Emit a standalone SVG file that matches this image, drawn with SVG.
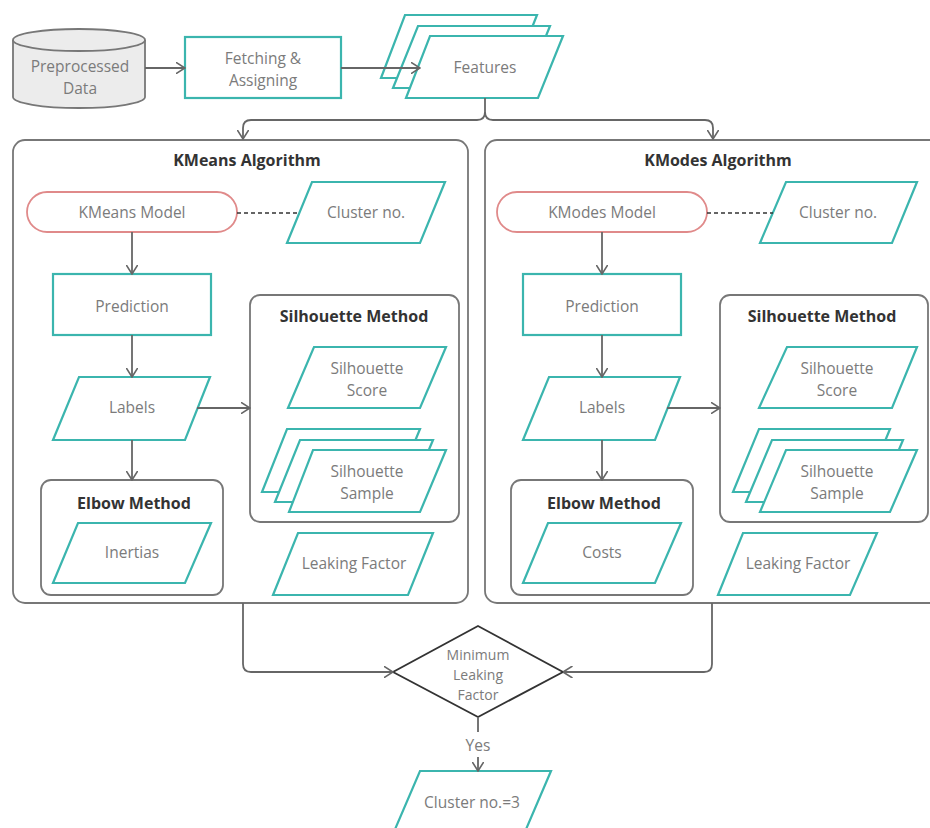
<svg xmlns="http://www.w3.org/2000/svg" width="930" height="828" viewBox="0 0 930 828">
<defs>
<marker id="arr" viewBox="0 0 10 12" refX="9.5" refY="6" markerWidth="10" markerHeight="12" markerUnits="userSpaceOnUse" orient="auto">
<path d="M0,0 L9.5,6 L0,12" fill="none" stroke="#666" stroke-width="1.6"/>
</marker>
</defs>
<style>
.bg{fill:#fff}
.io{fill:#fff;stroke:#3bb5ae;stroke-width:2.2}
.proc{fill:#fff;stroke:#3bb5ae;stroke-width:2.2}
.cont{fill:#fff;stroke:#777;stroke-width:1.8}
.term{fill:#fff;stroke:#e08a8a;stroke-width:1.8}
.db{fill:#ececec;stroke:#777;stroke-width:1.8}
.dec{fill:#fff;stroke:#333;stroke-width:1.8}
.lbl{font-family:"Open Sans","Noto Sans","Liberation Sans",sans-serif;font-size:15.5px;fill:#7b7b7b;text-anchor:middle}
.sm{font-size:14px}
.ttl{font-family:"Open Sans","Noto Sans","Liberation Sans",sans-serif;font-size:16px;font-weight:bold;fill:#333;text-anchor:middle}
.ln{fill:none;stroke:#666;stroke-width:1.8}
.dash{fill:none;stroke:#333;stroke-width:1.6;stroke-dasharray:4,3}
</style>
<rect class="bg" x="0" y="0" width="930" height="828"/>

<!-- Top row -->
<g id="preprocessed">
<path class="db" d="M13,40 A66,11 0 0 1 145,40 L145,97 A66,11 0 0 1 13,97 Z"/>
<path class="db" d="M13,40 A66,11 0 0 0 145,40"/>
<text class="lbl" x="80" y="72">Preprocessed</text>
<text class="lbl" x="80" y="93.5">Data</text>
</g>
<g id="fetching">
<rect class="proc" x="185" y="37" width="156" height="61"/>
<text class="lbl" x="263" y="64">Fetching &amp;</text>
<text class="lbl" x="263" y="85.5">Assigning</text>
</g>
<g id="features">
<polygon class="io" points="405,15 537,15 512,78 381,78"/>
<polygon class="io" points="418,26 550,26 525,88 393,88"/>
<polygon class="io" points="430,36 563,36 538,98 406,98"/>
<text class="lbl" x="485" y="73">Features</text>
</g>

<!-- KMeans container -->
<g id="kmeans">
<rect class="cont" x="13" y="140" width="455" height="463" rx="12"/>
<text class="ttl" x="247" y="166">KMeans Algorithm</text>
</g>
<g id="kmeans-model">
<rect class="term" x="27" y="192" width="210" height="40" rx="20"/>
<text class="lbl" x="132" y="218">KMeans Model</text>
</g>
<g id="kmeans-cluster">
<polygon class="io" points="312,182 445,182 420,243 287,243"/>
<text class="lbl" x="366" y="218">Cluster no.</text>
</g>
<g id="kmeans-prediction">
<rect class="proc" x="53" y="274" width="158" height="61"/>
<text class="lbl" x="132" y="312">Prediction</text>
</g>
<g id="kmeans-labels">
<polygon class="io" points="79,377 210,377 185,440 53,440"/>
<text class="lbl" x="132" y="413">Labels</text>
</g>
<g id="kmeans-silhouette">
<rect class="cont" x="250" y="295" width="209" height="227" rx="10"/>
<text class="ttl" x="354" y="322">Silhouette Method</text>
</g>
<g id="kmeans-score">
<polygon class="io" points="314,347 446,347 420,408 288,408"/>
<text class="lbl" x="367" y="374">Silhouette</text>
<text class="lbl" x="367" y="395.5">Score</text>
</g>
<g id="kmeans-sample">
<polygon class="io" points="287,429 420,429 394,492 262,492"/>
<polygon class="io" points="300,440 433,440 407,502 275,502"/>
<polygon class="io" points="313,450 446,450 420,512 289,512"/>
<text class="lbl" x="367" y="477">Silhouette</text>
<text class="lbl" x="367" y="498.5">Sample</text>
</g>
<g id="kmeans-leaking">
<polygon class="io" points="298,533 433,533 408,595 273,595"/>
<text class="lbl" x="354" y="569">Leaking Factor</text>
</g>
<g id="kmeans-elbow">
<rect class="cont" x="41" y="480" width="182" height="115" rx="10"/>
<text class="ttl" x="134" y="509">Elbow Method</text>
</g>
<g id="kmeans-inertias">
<polygon class="io" points="78,523 211,523 185,583 53,583"/>
<text class="lbl" x="132" y="558">Inertias</text>
</g>

<!-- KModes container -->
<g id="kmodes">
<rect class="cont" x="485" y="140" width="470" height="463" rx="12"/>
<text class="ttl" x="718" y="166">KModes Algorithm</text>
</g>
<g id="kmodes-model">
<rect class="term" x="497" y="192" width="210" height="40" rx="20"/>
<text class="lbl" x="602" y="218">KModes Model</text>
</g>
<g id="kmodes-cluster">
<polygon class="io" points="786,182 917,182 892,243 760,243"/>
<text class="lbl" x="838" y="218">Cluster no.</text>
</g>
<g id="kmodes-prediction">
<rect class="proc" x="523" y="274" width="158" height="61"/>
<text class="lbl" x="602" y="312">Prediction</text>
</g>
<g id="kmodes-labels">
<polygon class="io" points="549,377 680,377 655,440 523,440"/>
<text class="lbl" x="602" y="413">Labels</text>
</g>
<g id="kmodes-silhouette">
<rect class="cont" x="720" y="295" width="208" height="227" rx="10"/>
<text class="ttl" x="822" y="322">Silhouette Method</text>
</g>
<g id="kmodes-score">
<polygon class="io" points="787,347 917,347 892,408 759,408"/>
<text class="lbl" x="837" y="374">Silhouette</text>
<text class="lbl" x="837" y="395.5">Score</text>
</g>
<g id="kmodes-sample">
<polygon class="io" points="759,429 890,429 864,492 733,492"/>
<polygon class="io" points="772,440 903,440 877,502 746,502"/>
<polygon class="io" points="786,450 917,450 890,512 760,512"/>
<text class="lbl" x="837" y="477">Silhouette</text>
<text class="lbl" x="837" y="498.5">Sample</text>
</g>
<g id="kmodes-leaking">
<polygon class="io" points="743,533 877,533 850,595 718,595"/>
<text class="lbl" x="798" y="569">Leaking Factor</text>
</g>
<g id="kmodes-elbow">
<rect class="cont" x="511" y="480" width="182" height="115" rx="10"/>
<text class="ttl" x="604" y="509">Elbow Method</text>
</g>
<g id="kmodes-costs">
<polygon class="io" points="548,523 681,523 655,583 523,583"/>
<text class="lbl" x="602" y="558">Costs</text>
</g>

<!-- Decision -->
<g id="decision">
<polygon class="dec" points="478,626 563,672 478,717 393,672"/>
<text class="lbl sm" x="478" y="660">Minimum</text>
<text class="lbl sm" x="478" y="680">Leaking</text>
<text class="lbl sm" x="478" y="700">Factor</text>
</g>
<g id="yes-label">
<text class="lbl" x="478" y="751">Yes</text>
</g>
<g id="result">
<polygon class="io" points="420,771 551,771 524,834 393,834"/>
<text class="lbl" x="472" y="808">Cluster no.=3</text>
</g>

<!-- Connectors -->
<g id="connectors">
<path class="ln" d="M145,68 L185,68" marker-end="url(#arr)"/>
<path class="ln" d="M341,68 L420,68" marker-end="url(#arr)"/>
<path class="ln" d="M485,98 L485,112 Q485,120 477,120 L251,120 Q243,120 243,128 L243,139" marker-end="url(#arr)"/>
<path class="ln" d="M485,112 Q485,120 493,120 L705,120 Q713,120 713,128 L713,139" marker-end="url(#arr)"/>
<path class="dash" d="M237,213 L300,213"/>
<path class="ln" d="M132,232 L132,274" marker-end="url(#arr)"/>
<path class="ln" d="M132,335 L132,377" marker-end="url(#arr)"/>
<path class="ln" d="M197,408 L250,408" marker-end="url(#arr)"/>
<path class="ln" d="M132,440 L132,480" marker-end="url(#arr)"/>
<path class="dash" d="M707,213 L773,213"/>
<path class="ln" d="M602,232 L602,274" marker-end="url(#arr)"/>
<path class="ln" d="M602,335 L602,377" marker-end="url(#arr)"/>
<path class="ln" d="M667,408 L720,408" marker-end="url(#arr)"/>
<path class="ln" d="M602,440 L602,480" marker-end="url(#arr)"/>
<path class="ln" d="M243,603 L243,664 Q243,672 251,672 L393,672" marker-end="url(#arr)"/>
<path class="ln" d="M712,603 L712,664 Q712,672 704,672 L563,672" marker-end="url(#arr)"/>
<path class="ln" d="M478,717 L478,732"/>
<path class="ln" d="M478,757 L478,771" marker-end="url(#arr)"/>
</g>
</svg>
